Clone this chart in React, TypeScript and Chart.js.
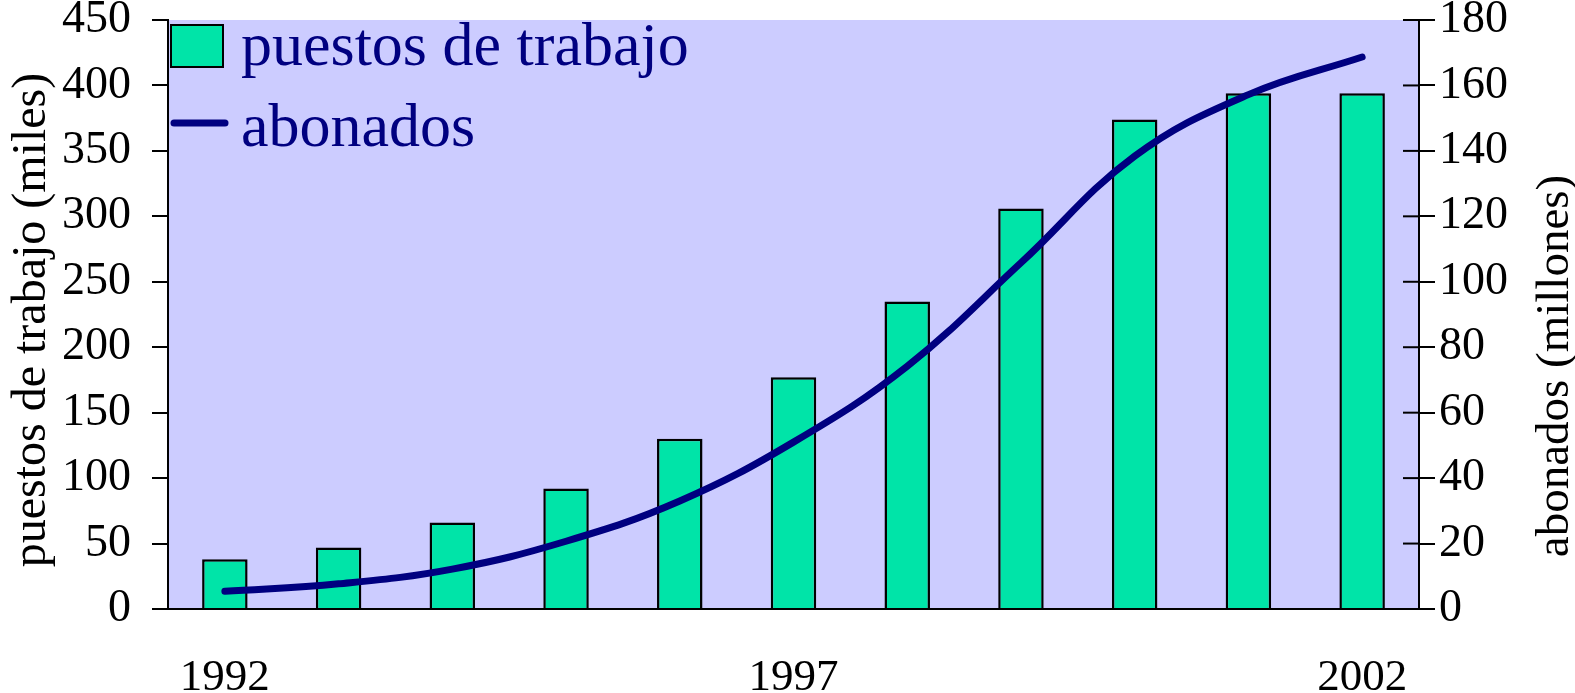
import React, { useEffect, useRef } from "react";
import { Chart, registerables } from "chart.js";

Chart.register(...registerables);

const years = ["1992", "1993", "1994", "1995", "1996", "1997", "1998", "1999", "2000", "2001", "2002"];
const shownYears = ["1992", "1997", "2002"];
const puestos = [38, 47, 66, 92, 130, 177, 235, 306, 374, 394, 394];
const abonados = [5.4, 7.7, 12.2, 20.7, 33, 51, 74.2, 105.8, 138.4, 157.2, 168.7];
const leftTitle = "puestos de trabajo (miles)";
const rightTitle = "abonados (millones)";
const legendBar = "puestos de trabajo";
const legendLine = "abonados";

const FONT = "'Liberation Serif', 'Times New Roman', serif";
const NAVY = "#000080";
const GREEN = "#00E4A8";
const LAVENDER = "#CCCCFF";

const decorPlugin = {
  id: "decor",
  beforeDraw(chart: any) {
    const { ctx, chartArea } = chart;
    ctx.save();
    ctx.fillStyle = LAVENDER;
    ctx.fillRect(chartArea.left, chartArea.top, chartArea.right - chartArea.left, chartArea.bottom - chartArea.top);
    ctx.restore();
  },
  afterDraw(chart: any) {
    const { ctx, chartArea } = chart;
    const y1 = chart.scales.y1;
    ctx.save();
    // inner ticks on right axis
    ctx.strokeStyle = "#000";
    ctx.lineWidth = 2;
    y1.ticks.forEach((t: any, i: number) => {
      const py = y1.getPixelForTick(i);
      ctx.beginPath();
      ctx.moveTo(chartArea.right - 16, py);
      ctx.lineTo(chartArea.right, py);
      ctx.stroke();
    });
    // axis titles
    ctx.fillStyle = "#000";
    ctx.textAlign = "center";
    ctx.textBaseline = "middle";
    ctx.font = `48px ${FONT}`;
    ctx.save();
    ctx.translate(32, 320);
    ctx.rotate(-Math.PI / 2);
    ctx.fillText(leftTitle, 0, 0);
    ctx.restore();
    ctx.font = `47px ${FONT}`;
    ctx.save();
    ctx.translate(1556, 366);
    ctx.rotate(-Math.PI / 2);
    ctx.fillText(rightTitle, 0, 0);
    ctx.restore();
    // legend
    const lx = chartArea.left + 3;
    ctx.fillStyle = GREEN;
    ctx.fillRect(lx, 25, 52, 42);
    ctx.strokeStyle = "#000";
    ctx.lineWidth = 2;
    ctx.strokeRect(lx, 25, 52, 42);
    ctx.strokeStyle = NAVY;
    ctx.lineWidth = 7;
    ctx.lineCap = "round";
    ctx.beginPath();
    ctx.moveTo(lx + 3, 123);
    ctx.lineTo(lx + 54, 123);
    ctx.stroke();
    ctx.fillStyle = NAVY;
    ctx.textAlign = "left";
    ctx.textBaseline = "alphabetic";
    ctx.font = `62px ${FONT}`;
    ctx.fillText(legendBar, 241, 65);
    ctx.fillText(legendLine, 241, 146);
    ctx.restore();
  },
};

const noPad = (s: any) => {
  s.paddingTop = 0;
  s.paddingBottom = 0;
  s.paddingLeft = 0;
  s.paddingRight = 0;
};

export default function App() {
  const ref = useRef<HTMLCanvasElement | null>(null);
  useEffect(() => {
    if (!ref.current) return;
    const chart = new Chart(ref.current, {
      type: "bar",
      data: {
        labels: years,
        datasets: [
          {
            type: "line",
            label: legendLine,
            data: abonados,
            yAxisID: "y1",
            borderColor: NAVY,
            borderWidth: 7,
            borderCapStyle: "round",
            tension: 0.4,
            pointRadius: 0,
            fill: false,
            order: 0,
          } as any,
          {
            type: "bar",
            label: legendBar,
            data: puestos,
            yAxisID: "y",
            backgroundColor: GREEN,
            borderColor: "#000",
            borderWidth: 2.5,
            categoryPercentage: 1,
            barPercentage: 0.4,
            order: 1,
          } as any,
        ],
      },
      options: {
        animation: false,
        responsive: false,
        maintainAspectRatio: false,
        layout: { padding: { top: 20, left: 0, right: 0, bottom: 0 } },
        plugins: { legend: { display: false }, tooltip: { enabled: false } },
        scales: {
          x: {
            grid: { display: false },
            border: { display: true, color: "#000", width: 2 },
            ticks: {
              autoSkip: false,
              maxRotation: 0,
              color: "#000",
              font: { family: FONT, size: 45, lineHeight: 1 },
              padding: 39,
              callback: (v: any, i: number) => (shownYears.includes(years[i]) ? years[i] : ""),
            },
            afterFit: (s: any) => {
              s.height = 84;
              noPad(s);
            },
          },
          y: {
            position: "left",
            min: 0,
            max: 450,
            ticks: {
              stepSize: 50,
              color: "#000",
              font: { family: FONT, size: 46, lineHeight: 0.8 },
              padding: 21,
            },
            grid: { display: true, drawOnChartArea: false, drawTicks: true, tickLength: 16, color: "#000", lineWidth: 2 },
            border: { display: true, color: "#000", width: 2 },
            afterFit: (s: any) => {
              s.width = 168;
              noPad(s);
            },
          },
          y1: {
            position: "right",
            min: 0,
            max: 180,
            ticks: {
              stepSize: 20,
              color: "#000",
              font: { family: FONT, size: 46, lineHeight: 0.8 },
              padding: 4,
            },
            grid: { display: true, drawOnChartArea: false, drawTicks: true, tickLength: 16, color: "#000", lineWidth: 2 },
            border: { display: true, color: "#000", width: 2 },
            afterFit: (s: any) => {
              s.width = 156;
              noPad(s);
            },
          },
        },
      },
      plugins: [decorPlugin],
    });
    return () => chart.destroy();
  }, []);
  return (
    <div style={{ position: "fixed", left: 0, top: 0, width: 1575, height: 693, background: "#fff" }}>
      <canvas ref={ref} width={1575} height={693} style={{ display: "block", width: 1575, height: 693 }} />
    </div>
  );
}
